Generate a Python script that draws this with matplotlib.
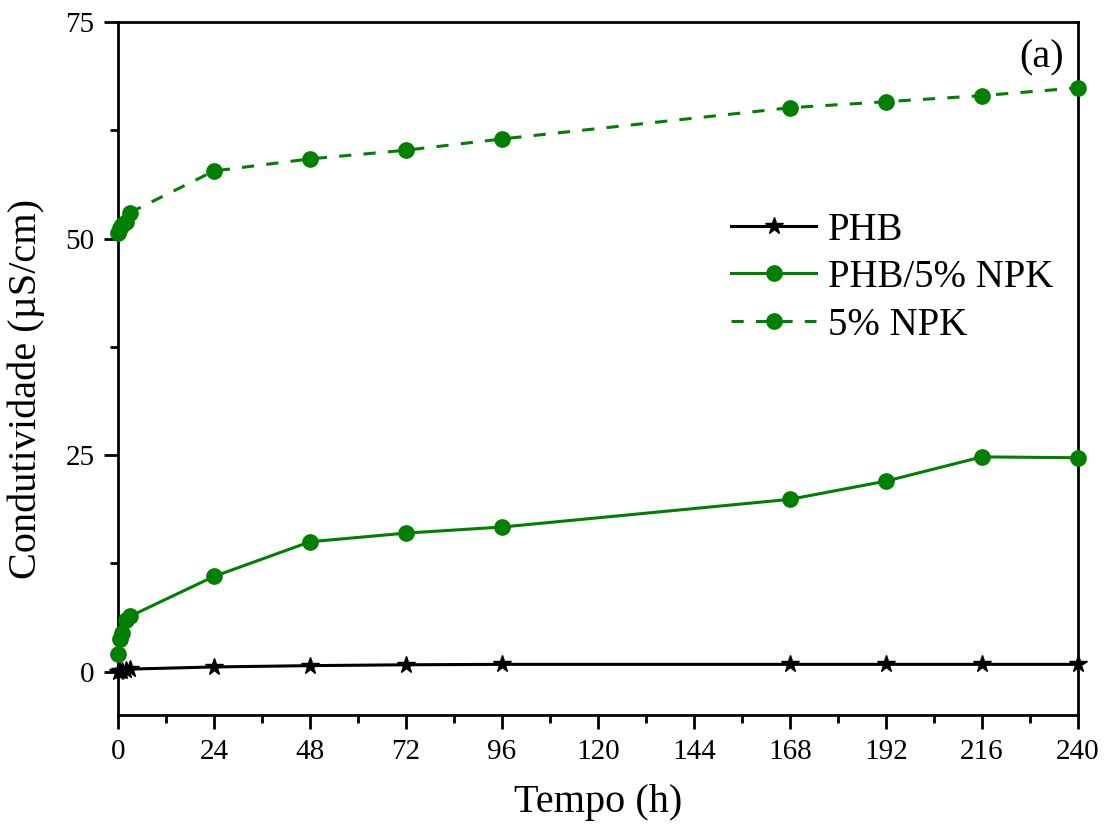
import matplotlib
matplotlib.use("Agg")
import matplotlib.pyplot as plt
from matplotlib.ticker import MultipleLocator

plt.rcParams['font.family'] = ['Liberation Serif', 'DejaVu Serif']
plt.rcParams['mathtext.fontset'] = 'stix'

# Sampling times (h)
tempo = [0, 0.5, 1, 2, 3, 24, 48, 72, 96, 168, 192, 216, 240]

# Conductivity (µS/cm)
phb = [0.0, 0.05, 0.1, 0.2, 0.3, 0.55, 0.7, 0.8, 0.85, 0.85, 0.85, 0.85, 0.85]
phb_npk = [2.0, 3.8, 4.5, 6.0, 6.4, 11.0, 15.0, 16.0, 16.7, 19.9, 22.0, 24.8, 24.7]
npk = [50.6, 51.2, 51.6, 51.9, 53.0, 57.8, 59.2, 60.2, 61.5, 65.1, 65.8, 66.5, 67.4]

green = '#008000'

fig = plt.figure(figsize=(11.09, 8.27), dpi=100)
ax = fig.add_axes([0.1064, 0.1354, 0.8656, 0.838])

ax.plot(tempo, phb, color='black', lw=2.2, marker='*', ms=13, label='PHB', clip_on=False, zorder=3)
ax.plot(tempo, phb_npk, color=green, lw=2.2, marker='o', ms=11, label='PHB/5% NPK', clip_on=False, zorder=3)
ax.plot(tempo, npk, color=green, lw=2.2, ls=(0, (4, 4)), marker='o', ms=11, label='5% NPK', clip_on=False, zorder=3)

ax.set_xlim(0, 240)
ax.set_ylim(-5, 75)
ax.xaxis.set_major_locator(MultipleLocator(24))
ax.xaxis.set_minor_locator(MultipleLocator(12))
ax.yaxis.set_major_locator(MultipleLocator(25))
ax.yaxis.set_minor_locator(MultipleLocator(12.5))

ax.tick_params(which='both', direction='out', top=False, right=False, width=2, labelsize=21)
ax.tick_params(which='major', length=10, pad=7)
ax.tick_params(which='minor', length=6)
for s in ax.spines.values():
    s.set_linewidth(2)

ax.set_xlabel('Tempo (h)', fontsize=29, labelpad=14)
ax.set_ylabel('Condutividade (µS/cm)', fontsize=29)
ax.yaxis.set_label_coords(-0.076, 0.47)

ax.text(0.985, 0.975, '(a)', transform=ax.transAxes, ha='right', va='top', fontsize=29)

leg = ax.legend(loc='upper left', bbox_to_anchor=(0.602, 0.777), frameon=False,
                fontsize=28, handlelength=2.2, handletextpad=0.3, labelspacing=0.27)

fig.savefig('out.png', dpi=100)
